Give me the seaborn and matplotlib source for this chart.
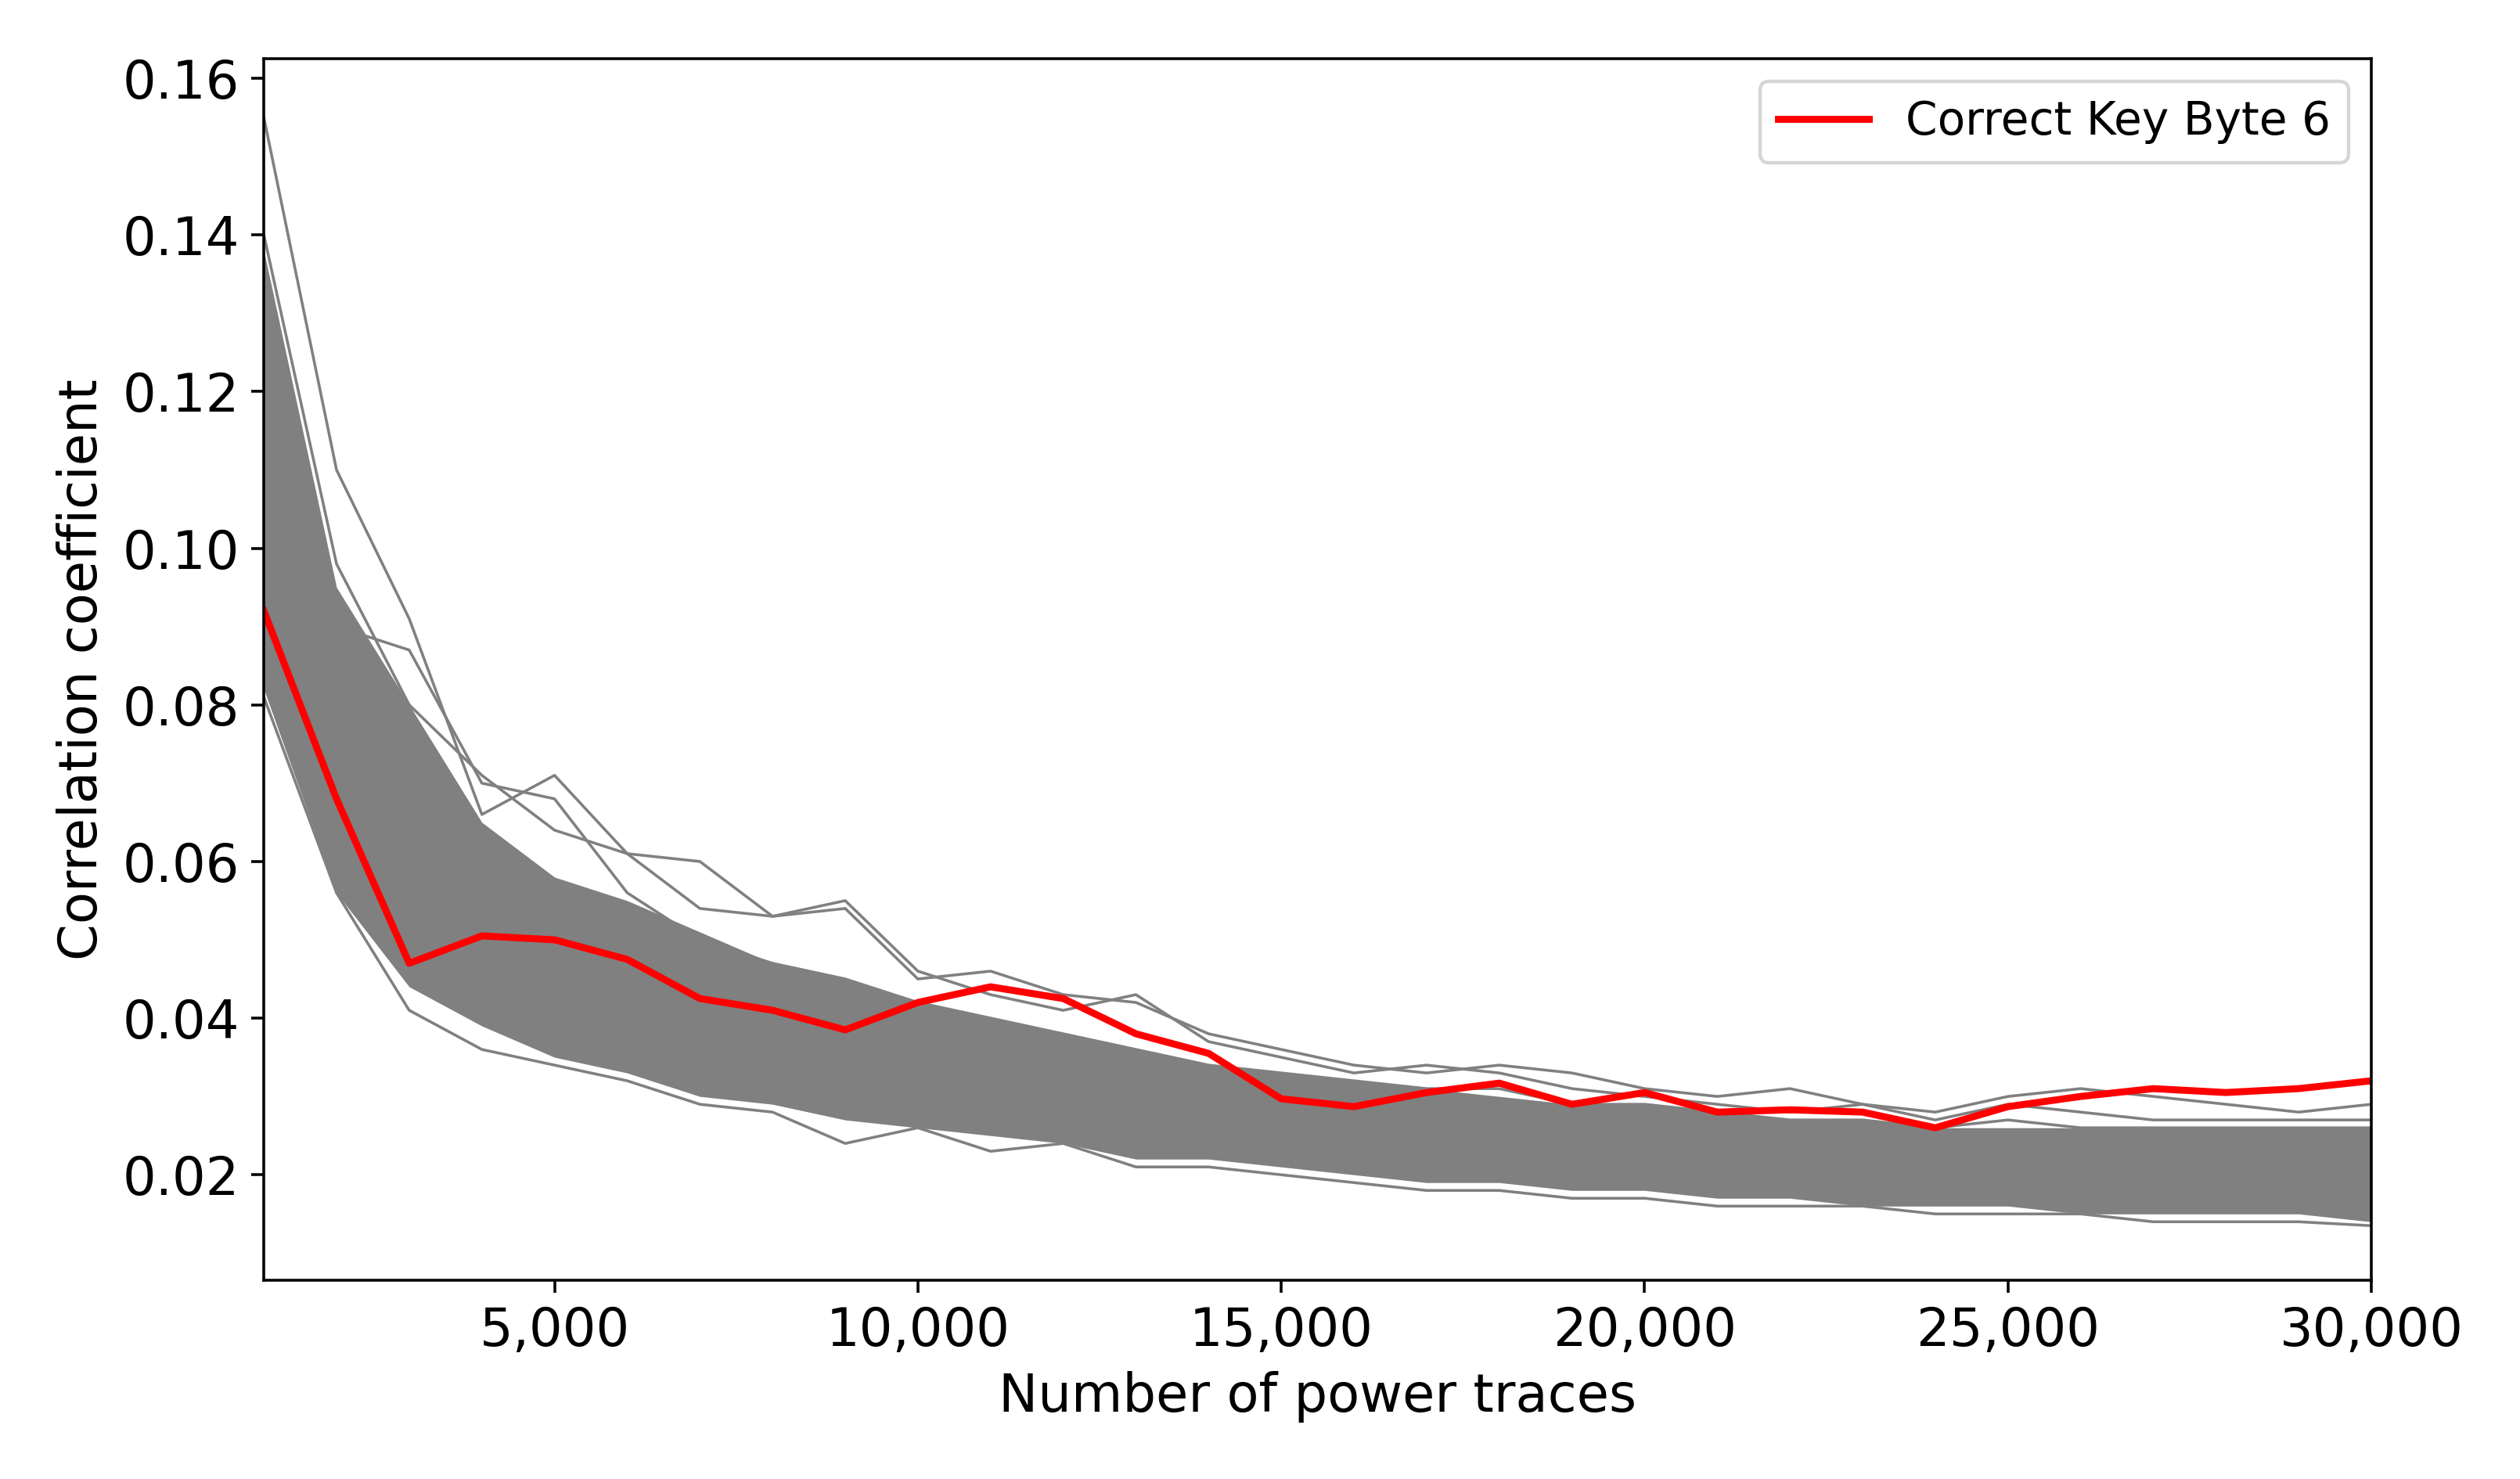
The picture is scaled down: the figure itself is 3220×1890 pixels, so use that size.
import matplotlib
matplotlib.use("Agg")
import matplotlib.pyplot as plt
import matplotlib.ticker as mticker
import numpy as np
import pandas as pd
import seaborn as sns

traces = list(range(1000, 31000, 1000))

correct_key = [0.092, 0.068, 0.047, 0.0505, 0.050, 0.0475, 0.0425, 0.041, 0.0385, 0.042,
               0.044, 0.0425, 0.038, 0.0355, 0.0297, 0.0287, 0.0305, 0.0317, 0.029, 0.0305,
               0.028, 0.0283, 0.028, 0.026, 0.0287, 0.030, 0.031, 0.0305, 0.031, 0.032]

# dense band of wrong key guesses (read as envelope of the core)
core_upper = [0.138, 0.095, 0.080, 0.065, 0.058, 0.055, 0.051, 0.047, 0.045, 0.042,
              0.040, 0.038, 0.036, 0.034, 0.033, 0.032, 0.031, 0.030, 0.029, 0.029,
              0.028, 0.027, 0.027, 0.026, 0.026, 0.026, 0.026, 0.026, 0.026, 0.026]
core_lower = [0.082, 0.056, 0.044, 0.039, 0.035, 0.033, 0.030, 0.029, 0.027, 0.026,
              0.025, 0.024, 0.022, 0.022, 0.021, 0.020, 0.019, 0.019, 0.018, 0.018,
              0.017, 0.017, 0.016, 0.016, 0.016, 0.015, 0.015, 0.015, 0.015, 0.014]

# individual outlying wrong-key traces
wrong_a = [0.155, 0.110, 0.091, 0.066, 0.071, 0.061, 0.060, 0.053, 0.054, 0.045,
           0.046, 0.043, 0.042, 0.038, 0.036, 0.034, 0.033, 0.034, 0.033, 0.031,
           0.030, 0.031, 0.029, 0.028, 0.030, 0.031, 0.030, 0.029, 0.028, 0.029]
wrong_b = [0.140, 0.098, 0.080, 0.071, 0.064, 0.061, 0.054, 0.053, 0.055, 0.046,
           0.043, 0.041, 0.043, 0.037, 0.035, 0.033, 0.034, 0.033, 0.031, 0.030,
           0.029, 0.028, 0.029, 0.027, 0.029, 0.028, 0.027, 0.027, 0.027, 0.027]
wrong_c = [0.081, 0.056, 0.041, 0.036, 0.034, 0.032, 0.029, 0.028, 0.024, 0.026,
           0.023, 0.024, 0.021, 0.021, 0.020, 0.019, 0.018, 0.018, 0.017, 0.017,
           0.016, 0.016, 0.016, 0.015, 0.015, 0.015, 0.014, 0.014, 0.014, 0.0135]
wrong_d = [0.120, 0.090, 0.087, 0.070, 0.068, 0.056, 0.050, 0.047, 0.045, 0.042,
           0.040, 0.038, 0.036, 0.034, 0.033, 0.032, 0.031, 0.031, 0.029, 0.029,
           0.028, 0.027, 0.027, 0.026, 0.027, 0.026, 0.026, 0.026, 0.026, 0.026]
wrong_e = [0.110, 0.075, 0.058, 0.052, 0.048, 0.043, 0.041, 0.037, 0.036, 0.034,
           0.033, 0.031, 0.030, 0.029, 0.028, 0.027, 0.026, 0.025, 0.024, 0.024,
           0.023, 0.023, 0.022, 0.022, 0.021, 0.021, 0.021, 0.020, 0.020, 0.020]
wrong_f = [0.095, 0.065, 0.050, 0.045, 0.040, 0.038, 0.035, 0.033, 0.031, 0.030,
           0.028, 0.027, 0.026, 0.025, 0.024, 0.023, 0.022, 0.022, 0.021, 0.021,
           0.020, 0.020, 0.019, 0.019, 0.019, 0.018, 0.018, 0.018, 0.018, 0.017]

plt.rcParams["font.size"] = 15
fig, ax = plt.subplots(figsize=(10, 5.87), dpi=322)

ax.fill_between(traces, core_lower, core_upper, color="grey", linewidth=0)
for w in [wrong_a, wrong_b, wrong_c, wrong_d, wrong_e, wrong_f]:
    sns.lineplot(x=traces, y=w, color="grey", linewidth=0.8, ax=ax)

df = pd.DataFrame({"traces": traces, "corr": correct_key})
sns.lineplot(data=df, x="traces", y="corr", color="red", linewidth=2,
             label="Correct Key Byte 6", ax=ax)

ax.set_xlim(1000, 30000)
ax.set_ylim(0.0065, 0.1625)
ax.set_xticks([5000, 10000, 15000, 20000, 25000, 30000])
ax.xaxis.set_major_formatter(mticker.FuncFormatter(lambda v, p: f"{int(v):,}"))
ax.yaxis.set_major_formatter(mticker.FormatStrFormatter("%.2f"))
ax.set_xlabel("Number of power traces")
ax.set_ylabel("Correlation coefficient")
ax.legend(loc="upper right", fontsize=13)
fig.tight_layout()
fig.savefig("out.png")
